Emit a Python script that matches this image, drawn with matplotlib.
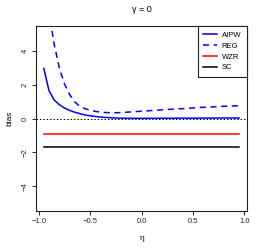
import numpy as np
import matplotlib
matplotlib.use("Agg")
import matplotlib.pyplot as plt

plt.rcParams['font.family'] = ['Liberation Sans', 'DejaVu Sans']

# eta grid and bias curves
eta = [-0.95, -0.9, -0.85, -0.8, -0.75, -0.7, -0.65, -0.6, -0.55, -0.5,
       -0.45, -0.4, -0.35, -0.3, -0.25, -0.2, -0.15, -0.1, -0.05, 0.0,
       0.05, 0.1, 0.15, 0.2, 0.25, 0.3, 0.35, 0.4, 0.45, 0.5,
       0.55, 0.6, 0.65, 0.7, 0.75, 0.8, 0.85, 0.9, 0.95]
aipw = [2.95, 1.65, 1.1, 0.82, 0.62, 0.48, 0.37, 0.29, 0.21, 0.16,
        0.12, 0.09, 0.06, 0.045, 0.03, 0.02, 0.015, 0.01, 0.01, 0.01,
        0.01, 0.01, 0.01, 0.015, 0.015, 0.015, 0.02, 0.02, 0.02, 0.02,
        0.02, 0.025, 0.025, 0.025, 0.03, 0.03, 0.03, 0.03, 0.03]
reg = [10.0, 6.3, 4.4, 3.0, 2.05, 1.42, 0.98, 0.72, 0.58, 0.49,
       0.42, 0.38, 0.35, 0.34, 0.34, 0.35, 0.37, 0.39, 0.41, 0.43,
       0.45, 0.47, 0.49, 0.51, 0.53, 0.55, 0.57, 0.58, 0.60, 0.62,
       0.64, 0.66, 0.67, 0.69, 0.70, 0.72, 0.73, 0.74, 0.75]
wzr = [-0.9] * len(eta)
sc = [-1.7] * len(eta)

fig = plt.figure(figsize=(2.66, 2.48), dpi=100)
ax = fig.add_axes([36/266, 1 - 211/248, 211/266, 185/248])

ax.axhline(0, color='black', lw=0.7, ls=(0, (1.5, 2)))
ax.plot(eta, aipw, color='blue', lw=1.1, label='AIPW')
ax.plot(eta, reg, color='blue', lw=1.1, ls=(0, (4, 3)), label='REG')
ax.plot(eta, wzr, color='red', lw=1.1, label='WZR')
ax.plot(eta, sc, color='black', lw=1.1, label='SC')

ax.set_xlim(-1.026, 1.026)
ax.set_ylim(-5.45, 5.45)
ax.set_xticks([-1.0, -0.5, 0.0, 0.5, 1.0])
ax.set_xticklabels(['\u22121.0', '\u22120.5', '0.0', '0.5', '1.0'])
ax.set_yticks([-4, -2, 0, 2, 4])
ax.set_yticklabels(['\u22124', '\u22122', '0', '2', '4'], rotation=90, va='center')
ax.tick_params(direction='out', length=3, width=0.7, labelsize=5.5, pad=2, colors='#222222')
for s in ax.spines.values():
    s.set_linewidth(0.8)
    s.set_color('#222222')

ax.set_xlabel('\u03b7', fontsize=6, labelpad=7)
ax.set_ylabel('bias', fontsize=6, labelpad=6)
fig.text(142/266, 1 - 10/248, '\u03b3 = 0', ha='center', va='center', fontsize=6.5)

leg = ax.legend(loc='upper right', bbox_to_anchor=(1, 1), borderaxespad=0,
                fontsize=5.5, fancybox=False, framealpha=1, edgecolor='#222222',
                handlelength=1.8, labelspacing=0.45, borderpad=0.75, handletextpad=0.6)
leg.get_frame().set_linewidth(0.8)

fig.savefig('out.png', dpi=100)
